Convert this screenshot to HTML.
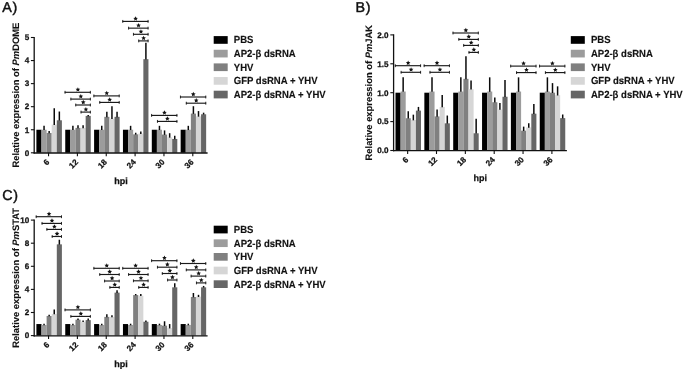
<!DOCTYPE html>
<html><head><meta charset="utf-8"><title>Figure</title>
<style>
html,body{margin:0;padding:0;background:#fff;}
svg{display:block;font-family:"Liberation Sans", sans-serif;fill:#111;filter:grayscale(1) blur(0.35px);text-rendering:geometricPrecision;}
text[font-weight=bold]{stroke:#111;stroke-width:0.25px;}
</style></head>
<body>
<svg width="685" height="371" viewBox="0 0 685 371">
<rect x="0" y="0" width="685" height="371" fill="#ffffff"/>
<g id="panelA">
<rect x="36.40" y="129.74" width="5.10" height="23.06" fill="#000000"/>
<rect x="41.50" y="129.74" width="5.10" height="23.06" fill="#9c9c9c"/>
<line x1="44.05" x2="44.05" y1="125.82" y2="130.04" stroke="#0a0a0a" stroke-width="1.5"/>
<rect x="46.60" y="132.97" width="5.10" height="19.83" fill="#808080"/>
<line x1="49.15" x2="49.15" y1="130.89" y2="133.27" stroke="#0a0a0a" stroke-width="1.5"/>
<rect x="51.70" y="124.67" width="5.10" height="28.13" fill="#d6d6d6"/>
<line x1="54.25" x2="54.25" y1="108.29" y2="124.97" stroke="#0a0a0a" stroke-width="1.5"/>
<rect x="56.80" y="120.29" width="5.10" height="32.51" fill="#666666"/>
<line x1="59.35" x2="59.35" y1="111.52" y2="120.59" stroke="#0a0a0a" stroke-width="1.5"/>
<rect x="65.25" y="129.74" width="5.10" height="23.06" fill="#000000"/>
<rect x="70.35" y="129.74" width="5.10" height="23.06" fill="#9c9c9c"/>
<line x1="72.90" x2="72.90" y1="125.82" y2="130.04" stroke="#0a0a0a" stroke-width="1.5"/>
<rect x="75.45" y="127.90" width="5.10" height="24.90" fill="#808080"/>
<line x1="78.00" x2="78.00" y1="125.13" y2="128.20" stroke="#0a0a0a" stroke-width="1.5"/>
<rect x="80.55" y="127.90" width="5.10" height="24.90" fill="#d6d6d6"/>
<line x1="83.10" x2="83.10" y1="125.13" y2="128.20" stroke="#0a0a0a" stroke-width="1.5"/>
<rect x="85.65" y="115.90" width="5.10" height="36.90" fill="#666666"/>
<line x1="88.20" x2="88.20" y1="114.98" y2="116.20" stroke="#0a0a0a" stroke-width="1.5"/>
<rect x="94.10" y="129.74" width="5.10" height="23.06" fill="#000000"/>
<rect x="99.20" y="129.74" width="5.10" height="23.06" fill="#9c9c9c"/>
<line x1="101.75" x2="101.75" y1="125.82" y2="130.04" stroke="#0a0a0a" stroke-width="1.5"/>
<rect x="104.30" y="116.83" width="5.10" height="35.97" fill="#808080"/>
<line x1="106.85" x2="106.85" y1="111.75" y2="117.13" stroke="#0a0a0a" stroke-width="1.5"/>
<rect x="109.40" y="118.67" width="5.10" height="34.13" fill="#d6d6d6"/>
<line x1="111.95" x2="111.95" y1="106.22" y2="118.97" stroke="#0a0a0a" stroke-width="1.5"/>
<rect x="114.50" y="116.83" width="5.10" height="35.97" fill="#666666"/>
<line x1="117.05" x2="117.05" y1="111.75" y2="117.13" stroke="#0a0a0a" stroke-width="1.5"/>
<rect x="122.95" y="129.74" width="5.10" height="23.06" fill="#000000"/>
<rect x="128.05" y="129.74" width="5.10" height="23.06" fill="#9c9c9c"/>
<line x1="130.60" x2="130.60" y1="125.82" y2="130.04" stroke="#0a0a0a" stroke-width="1.5"/>
<rect x="133.15" y="134.35" width="5.10" height="18.45" fill="#808080"/>
<line x1="135.70" x2="135.70" y1="132.74" y2="134.65" stroke="#0a0a0a" stroke-width="1.5"/>
<rect x="138.25" y="133.66" width="5.10" height="19.14" fill="#d6d6d6"/>
<line x1="140.80" x2="140.80" y1="131.58" y2="133.96" stroke="#0a0a0a" stroke-width="1.5"/>
<rect x="143.35" y="59.18" width="5.10" height="93.62" fill="#666666"/>
<line x1="145.90" x2="145.90" y1="42.80" y2="59.48" stroke="#0a0a0a" stroke-width="1.5"/>
<rect x="151.80" y="129.74" width="5.10" height="23.06" fill="#000000"/>
<rect x="156.90" y="129.74" width="5.10" height="23.06" fill="#9c9c9c"/>
<line x1="159.45" x2="159.45" y1="125.82" y2="130.04" stroke="#0a0a0a" stroke-width="1.5"/>
<rect x="162.00" y="134.58" width="5.10" height="18.22" fill="#808080"/>
<line x1="164.55" x2="164.55" y1="130.43" y2="134.88" stroke="#0a0a0a" stroke-width="1.5"/>
<rect x="167.10" y="137.35" width="5.10" height="15.45" fill="#d6d6d6"/>
<line x1="169.65" x2="169.65" y1="133.20" y2="137.65" stroke="#0a0a0a" stroke-width="1.5"/>
<rect x="172.20" y="138.96" width="5.10" height="13.84" fill="#666666"/>
<line x1="174.75" x2="174.75" y1="135.74" y2="139.26" stroke="#0a0a0a" stroke-width="1.5"/>
<rect x="180.65" y="129.74" width="5.10" height="23.06" fill="#000000"/>
<rect x="185.75" y="129.74" width="5.10" height="23.06" fill="#9c9c9c"/>
<line x1="188.30" x2="188.30" y1="125.82" y2="130.04" stroke="#0a0a0a" stroke-width="1.5"/>
<rect x="190.85" y="113.60" width="5.10" height="39.20" fill="#808080"/>
<line x1="193.40" x2="193.40" y1="106.22" y2="113.90" stroke="#0a0a0a" stroke-width="1.5"/>
<rect x="195.95" y="116.37" width="5.10" height="36.43" fill="#d6d6d6"/>
<line x1="198.50" x2="198.50" y1="111.06" y2="116.67" stroke="#0a0a0a" stroke-width="1.5"/>
<rect x="201.05" y="114.29" width="5.10" height="38.51" fill="#666666"/>
<line x1="203.60" x2="203.60" y1="112.68" y2="114.59" stroke="#0a0a0a" stroke-width="1.5"/>
<line x1="34.20" x2="34.20" y1="36.90" y2="153.60" stroke="#111" stroke-width="1.3"/>
<line x1="33.60" x2="207.60" y1="153.00" y2="153.00" stroke="#111" stroke-width="1.3"/>
<line x1="30.90" x2="34.20" y1="152.80" y2="152.80" stroke="#111" stroke-width="1.1"/>
<text x="29.20" y="155.60" text-anchor="end" font-size="8.1" font-weight="bold">0</text>
<line x1="30.90" x2="34.20" y1="129.74" y2="129.74" stroke="#111" stroke-width="1.1"/>
<text x="29.20" y="132.54" text-anchor="end" font-size="8.1" font-weight="bold">1</text>
<line x1="30.90" x2="34.20" y1="106.68" y2="106.68" stroke="#111" stroke-width="1.1"/>
<text x="29.20" y="109.48" text-anchor="end" font-size="8.1" font-weight="bold">2</text>
<line x1="30.90" x2="34.20" y1="83.62" y2="83.62" stroke="#111" stroke-width="1.1"/>
<text x="29.20" y="86.42" text-anchor="end" font-size="8.1" font-weight="bold">3</text>
<line x1="30.90" x2="34.20" y1="60.56" y2="60.56" stroke="#111" stroke-width="1.1"/>
<text x="29.20" y="63.36" text-anchor="end" font-size="8.1" font-weight="bold">4</text>
<line x1="30.90" x2="34.20" y1="37.50" y2="37.50" stroke="#111" stroke-width="1.1"/>
<text x="29.20" y="40.30" text-anchor="end" font-size="8.1" font-weight="bold">5</text>
<line x1="48.55" x2="48.55" y1="152.80" y2="156.30" stroke="#111" stroke-width="1.1"/>
<text transform="translate(49.85,162.50) rotate(-45)" text-anchor="end" font-size="8.1" font-weight="bold">6</text>
<line x1="77.40" x2="77.40" y1="152.80" y2="156.30" stroke="#111" stroke-width="1.1"/>
<text transform="translate(78.70,162.50) rotate(-45)" text-anchor="end" font-size="8.1" font-weight="bold">12</text>
<line x1="106.25" x2="106.25" y1="152.80" y2="156.30" stroke="#111" stroke-width="1.1"/>
<text transform="translate(107.55,162.50) rotate(-45)" text-anchor="end" font-size="8.1" font-weight="bold">18</text>
<line x1="135.10" x2="135.10" y1="152.80" y2="156.30" stroke="#111" stroke-width="1.1"/>
<text transform="translate(136.40,162.50) rotate(-45)" text-anchor="end" font-size="8.1" font-weight="bold">24</text>
<line x1="163.95" x2="163.95" y1="152.80" y2="156.30" stroke="#111" stroke-width="1.1"/>
<text transform="translate(165.25,162.50) rotate(-45)" text-anchor="end" font-size="8.1" font-weight="bold">30</text>
<line x1="192.80" x2="192.80" y1="152.80" y2="156.30" stroke="#111" stroke-width="1.1"/>
<text transform="translate(194.10,162.50) rotate(-45)" text-anchor="end" font-size="8.1" font-weight="bold">36</text>
<text x="120.90" y="183.70" text-anchor="middle" font-size="9" font-weight="bold">hpi</text>
<text transform="translate(19.40,95.15) rotate(-90)" text-anchor="middle" font-size="9.4" font-weight="bold" style="stroke-width:0.1px">Relative expression of <tspan font-style="italic">Pm</tspan>DOME</text>
<text x="2.3" y="11.85" font-size="14.3" letter-spacing="0.7" stroke="#111" stroke-width="0.45">A)</text>
<line x1="64.65" x2="90.75" y1="92.30" y2="92.30" stroke="#1a1a1a" stroke-width="1.15"/>
<line x1="65.05" x2="65.05" y1="90.85" y2="93.75" stroke="#1a1a1a" stroke-width="0.9"/>
<line x1="90.35" x2="90.35" y1="90.85" y2="93.75" stroke="#1a1a1a" stroke-width="0.9"/>
<polygon points="77.90,87.15 78.58,88.67 80.23,88.84 78.99,89.96 79.34,91.58 77.90,90.75 76.46,91.58 76.81,89.96 75.57,88.84 77.22,88.67" fill="#111"/>
<line x1="70.50" x2="90.75" y1="99.10" y2="99.10" stroke="#1a1a1a" stroke-width="1.15"/>
<line x1="70.90" x2="70.90" y1="97.65" y2="100.55" stroke="#1a1a1a" stroke-width="0.9"/>
<line x1="90.35" x2="90.35" y1="97.65" y2="100.55" stroke="#1a1a1a" stroke-width="0.9"/>
<polygon points="80.83,93.95 81.50,95.47 83.16,95.64 81.92,96.76 82.27,98.38 80.83,97.55 79.38,98.38 79.73,96.76 78.49,95.64 80.15,95.47" fill="#111"/>
<line x1="75.35" x2="90.75" y1="105.00" y2="105.00" stroke="#1a1a1a" stroke-width="1.15"/>
<line x1="75.75" x2="75.75" y1="103.55" y2="106.45" stroke="#1a1a1a" stroke-width="0.9"/>
<line x1="90.35" x2="90.35" y1="103.55" y2="106.45" stroke="#1a1a1a" stroke-width="0.9"/>
<polygon points="83.25,99.85 83.93,101.37 85.58,101.54 84.34,102.66 84.69,104.28 83.25,103.45 81.81,104.28 82.16,102.66 80.92,101.54 82.57,101.37" fill="#111"/>
<line x1="80.65" x2="90.75" y1="112.10" y2="112.10" stroke="#1a1a1a" stroke-width="1.15"/>
<line x1="81.05" x2="81.05" y1="110.65" y2="113.55" stroke="#1a1a1a" stroke-width="0.9"/>
<line x1="90.35" x2="90.35" y1="110.65" y2="113.55" stroke="#1a1a1a" stroke-width="0.9"/>
<polygon points="85.90,106.95 86.58,108.47 88.23,108.64 86.99,109.76 87.34,111.38 85.90,110.55 84.46,111.38 84.81,109.76 83.57,108.64 85.22,108.47" fill="#111"/>
<line x1="93.50" x2="119.60" y1="95.90" y2="95.90" stroke="#1a1a1a" stroke-width="1.15"/>
<line x1="93.90" x2="93.90" y1="94.45" y2="97.35" stroke="#1a1a1a" stroke-width="0.9"/>
<line x1="119.20" x2="119.20" y1="94.45" y2="97.35" stroke="#1a1a1a" stroke-width="0.9"/>
<polygon points="106.75,90.75 107.43,92.27 109.08,92.44 107.84,93.56 108.19,95.18 106.75,94.35 105.31,95.18 105.66,93.56 104.42,92.44 106.07,92.27" fill="#111"/>
<line x1="99.35" x2="119.60" y1="102.40" y2="102.40" stroke="#1a1a1a" stroke-width="1.15"/>
<line x1="99.75" x2="99.75" y1="100.95" y2="103.85" stroke="#1a1a1a" stroke-width="0.9"/>
<line x1="119.20" x2="119.20" y1="100.95" y2="103.85" stroke="#1a1a1a" stroke-width="0.9"/>
<polygon points="109.67,97.25 110.35,98.77 112.01,98.94 110.77,100.06 111.12,101.68 109.67,100.85 108.23,101.68 108.58,100.06 107.34,98.94 109.00,98.77" fill="#111"/>
<line x1="122.35" x2="148.45" y1="21.40" y2="21.40" stroke="#1a1a1a" stroke-width="1.15"/>
<line x1="122.75" x2="122.75" y1="19.95" y2="22.85" stroke="#1a1a1a" stroke-width="0.9"/>
<line x1="148.05" x2="148.05" y1="19.95" y2="22.85" stroke="#1a1a1a" stroke-width="0.9"/>
<polygon points="135.60,16.25 136.28,17.77 137.93,17.94 136.69,19.06 137.04,20.68 135.60,19.85 134.16,20.68 134.51,19.06 133.27,17.94 134.92,17.77" fill="#111"/>
<line x1="128.20" x2="148.45" y1="28.15" y2="28.15" stroke="#1a1a1a" stroke-width="1.15"/>
<line x1="128.60" x2="128.60" y1="26.70" y2="29.60" stroke="#1a1a1a" stroke-width="0.9"/>
<line x1="148.05" x2="148.05" y1="26.70" y2="29.60" stroke="#1a1a1a" stroke-width="0.9"/>
<polygon points="138.53,23.00 139.20,24.52 140.86,24.69 139.62,25.81 139.97,27.43 138.53,26.60 137.08,27.43 137.43,25.81 136.19,24.69 137.85,24.52" fill="#111"/>
<line x1="133.05" x2="148.45" y1="34.30" y2="34.30" stroke="#1a1a1a" stroke-width="1.15"/>
<line x1="133.45" x2="133.45" y1="32.85" y2="35.75" stroke="#1a1a1a" stroke-width="0.9"/>
<line x1="148.05" x2="148.05" y1="32.85" y2="35.75" stroke="#1a1a1a" stroke-width="0.9"/>
<polygon points="140.95,29.15 141.63,30.67 143.28,30.84 142.04,31.96 142.39,33.58 140.95,32.75 139.51,33.58 139.86,31.96 138.62,30.84 140.27,30.67" fill="#111"/>
<line x1="138.35" x2="148.45" y1="40.90" y2="40.90" stroke="#1a1a1a" stroke-width="1.15"/>
<line x1="138.75" x2="138.75" y1="39.45" y2="42.35" stroke="#1a1a1a" stroke-width="0.9"/>
<line x1="148.05" x2="148.05" y1="39.45" y2="42.35" stroke="#1a1a1a" stroke-width="0.9"/>
<polygon points="143.60,35.75 144.28,37.27 145.93,37.44 144.69,38.56 145.04,40.18 143.60,39.35 142.16,40.18 142.51,38.56 141.27,37.44 142.92,37.27" fill="#111"/>
<line x1="151.20" x2="177.30" y1="115.40" y2="115.40" stroke="#1a1a1a" stroke-width="1.15"/>
<line x1="151.60" x2="151.60" y1="113.95" y2="116.85" stroke="#1a1a1a" stroke-width="0.9"/>
<line x1="176.90" x2="176.90" y1="113.95" y2="116.85" stroke="#1a1a1a" stroke-width="0.9"/>
<polygon points="164.45,110.25 165.13,111.77 166.78,111.94 165.54,113.06 165.89,114.68 164.45,113.85 163.01,114.68 163.36,113.06 162.12,111.94 163.77,111.77" fill="#111"/>
<line x1="157.05" x2="177.30" y1="121.40" y2="121.40" stroke="#1a1a1a" stroke-width="1.15"/>
<line x1="157.45" x2="157.45" y1="119.95" y2="122.85" stroke="#1a1a1a" stroke-width="0.9"/>
<line x1="176.90" x2="176.90" y1="119.95" y2="122.85" stroke="#1a1a1a" stroke-width="0.9"/>
<polygon points="167.38,116.25 168.05,117.77 169.71,117.94 168.47,119.06 168.82,120.68 167.38,119.85 165.93,120.68 166.28,119.06 165.04,117.94 166.70,117.77" fill="#111"/>
<line x1="180.05" x2="206.15" y1="97.00" y2="97.00" stroke="#1a1a1a" stroke-width="1.15"/>
<line x1="180.45" x2="180.45" y1="95.55" y2="98.45" stroke="#1a1a1a" stroke-width="0.9"/>
<line x1="205.75" x2="205.75" y1="95.55" y2="98.45" stroke="#1a1a1a" stroke-width="0.9"/>
<polygon points="193.30,91.85 193.98,93.37 195.63,93.54 194.39,94.66 194.74,96.28 193.30,95.45 191.86,96.28 192.21,94.66 190.97,93.54 192.62,93.37" fill="#111"/>
<line x1="185.90" x2="206.15" y1="103.20" y2="103.20" stroke="#1a1a1a" stroke-width="1.15"/>
<line x1="186.30" x2="186.30" y1="101.75" y2="104.65" stroke="#1a1a1a" stroke-width="0.9"/>
<line x1="205.75" x2="205.75" y1="101.75" y2="104.65" stroke="#1a1a1a" stroke-width="0.9"/>
<polygon points="196.22,98.05 196.90,99.57 198.56,99.74 197.32,100.86 197.67,102.48 196.22,101.65 194.78,102.48 195.13,100.86 193.89,99.74 195.55,99.57" fill="#111"/>
<rect x="213.70" y="36.10" width="14" height="7.7" fill="#000000"/>
<text transform="translate(233.80,43.45) scale(0.925,1)" font-size="10.3" font-weight="bold" style="stroke-width:0.15px">PBS</text>
<rect x="213.70" y="49.75" width="14" height="7.7" fill="#9c9c9c"/>
<text transform="translate(233.80,57.10) scale(0.925,1)" font-size="10.3" font-weight="bold" style="stroke-width:0.15px">AP2-β dsRNA</text>
<rect x="213.70" y="63.40" width="14" height="7.7" fill="#808080"/>
<text transform="translate(233.80,70.75) scale(0.925,1)" font-size="10.3" font-weight="bold" style="stroke-width:0.15px">YHV</text>
<rect x="213.70" y="77.05" width="14" height="7.7" fill="#d6d6d6"/>
<text transform="translate(233.80,84.40) scale(0.925,1)" font-size="10.3" font-weight="bold" style="stroke-width:0.15px">GFP dsRNA + YHV</text>
<rect x="213.70" y="90.70" width="14" height="7.7" fill="#666666"/>
<text transform="translate(233.80,98.05) scale(0.925,1)" font-size="10.3" font-weight="bold" style="stroke-width:0.15px">AP2-β dsRNA + YHV</text>
</g>
<g id="panelB">
<rect x="395.50" y="92.70" width="5.10" height="57.80" fill="#000000"/>
<rect x="400.60" y="91.54" width="5.10" height="58.96" fill="#9c9c9c"/>
<line x1="403.15" x2="403.15" y1="77.33" y2="91.84" stroke="#0a0a0a" stroke-width="1.5"/>
<rect x="405.70" y="118.25" width="5.10" height="32.25" fill="#808080"/>
<line x1="408.25" x2="408.25" y1="111.20" y2="118.55" stroke="#0a0a0a" stroke-width="1.5"/>
<rect x="410.80" y="120.04" width="5.10" height="30.46" fill="#d6d6d6"/>
<line x1="413.35" x2="413.35" y1="114.66" y2="120.34" stroke="#0a0a0a" stroke-width="1.5"/>
<rect x="415.90" y="110.62" width="5.10" height="39.88" fill="#666666"/>
<line x1="418.45" x2="418.45" y1="106.92" y2="110.92" stroke="#0a0a0a" stroke-width="1.5"/>
<rect x="424.35" y="92.70" width="5.10" height="57.80" fill="#000000"/>
<rect x="429.45" y="91.54" width="5.10" height="58.96" fill="#9c9c9c"/>
<line x1="432.00" x2="432.00" y1="77.33" y2="91.84" stroke="#0a0a0a" stroke-width="1.5"/>
<rect x="434.55" y="116.40" width="5.10" height="34.10" fill="#808080"/>
<line x1="437.10" x2="437.10" y1="109.46" y2="116.70" stroke="#0a0a0a" stroke-width="1.5"/>
<rect x="439.65" y="106.92" width="5.10" height="43.58" fill="#d6d6d6"/>
<line x1="442.20" x2="442.20" y1="95.01" y2="107.22" stroke="#0a0a0a" stroke-width="1.5"/>
<rect x="444.75" y="123.33" width="5.10" height="27.17" fill="#666666"/>
<line x1="447.30" x2="447.30" y1="115.53" y2="123.63" stroke="#0a0a0a" stroke-width="1.5"/>
<rect x="453.20" y="92.70" width="5.10" height="57.80" fill="#000000"/>
<rect x="458.30" y="91.54" width="5.10" height="58.96" fill="#9c9c9c"/>
<line x1="460.85" x2="460.85" y1="77.33" y2="91.84" stroke="#0a0a0a" stroke-width="1.5"/>
<rect x="463.40" y="78.83" width="5.10" height="71.67" fill="#808080"/>
<line x1="465.95" x2="465.95" y1="56.29" y2="79.13" stroke="#0a0a0a" stroke-width="1.5"/>
<rect x="468.50" y="89.23" width="5.10" height="61.27" fill="#d6d6d6"/>
<line x1="471.05" x2="471.05" y1="80.56" y2="89.53" stroke="#0a0a0a" stroke-width="1.5"/>
<rect x="473.60" y="133.28" width="5.10" height="17.22" fill="#666666"/>
<line x1="476.15" x2="476.15" y1="118.71" y2="133.58" stroke="#0a0a0a" stroke-width="1.5"/>
<rect x="482.05" y="92.70" width="5.10" height="57.80" fill="#000000"/>
<rect x="487.15" y="91.54" width="5.10" height="58.96" fill="#9c9c9c"/>
<line x1="489.70" x2="489.70" y1="77.33" y2="91.84" stroke="#0a0a0a" stroke-width="1.5"/>
<rect x="492.25" y="102.24" width="5.10" height="48.26" fill="#808080"/>
<line x1="494.80" x2="494.80" y1="97.61" y2="102.54" stroke="#0a0a0a" stroke-width="1.5"/>
<rect x="497.35" y="109.46" width="5.10" height="41.04" fill="#d6d6d6"/>
<line x1="499.90" x2="499.90" y1="103.10" y2="109.76" stroke="#0a0a0a" stroke-width="1.5"/>
<rect x="502.45" y="96.75" width="5.10" height="53.75" fill="#666666"/>
<line x1="505.00" x2="505.00" y1="79.98" y2="97.05" stroke="#0a0a0a" stroke-width="1.5"/>
<rect x="510.90" y="92.70" width="5.10" height="57.80" fill="#000000"/>
<rect x="516.00" y="91.54" width="5.10" height="58.96" fill="#9c9c9c"/>
<line x1="518.55" x2="518.55" y1="77.33" y2="91.84" stroke="#0a0a0a" stroke-width="1.5"/>
<rect x="521.10" y="130.67" width="5.10" height="19.83" fill="#808080"/>
<line x1="523.65" x2="523.65" y1="126.63" y2="130.97" stroke="#0a0a0a" stroke-width="1.5"/>
<rect x="526.20" y="127.38" width="5.10" height="23.12" fill="#d6d6d6"/>
<line x1="528.75" x2="528.75" y1="123.33" y2="127.68" stroke="#0a0a0a" stroke-width="1.5"/>
<rect x="531.30" y="113.68" width="5.10" height="36.82" fill="#666666"/>
<line x1="533.85" x2="533.85" y1="103.97" y2="113.98" stroke="#0a0a0a" stroke-width="1.5"/>
<rect x="539.75" y="92.70" width="5.10" height="57.80" fill="#000000"/>
<rect x="544.85" y="91.54" width="5.10" height="58.96" fill="#9c9c9c"/>
<line x1="547.40" x2="547.40" y1="77.33" y2="91.84" stroke="#0a0a0a" stroke-width="1.5"/>
<rect x="549.95" y="92.70" width="5.10" height="57.80" fill="#808080"/>
<line x1="552.50" x2="552.50" y1="83.11" y2="93.00" stroke="#0a0a0a" stroke-width="1.5"/>
<rect x="555.05" y="95.19" width="5.10" height="55.31" fill="#d6d6d6"/>
<line x1="557.60" x2="557.60" y1="86.34" y2="95.49" stroke="#0a0a0a" stroke-width="1.5"/>
<rect x="560.15" y="118.13" width="5.10" height="32.37" fill="#666666"/>
<line x1="562.70" x2="562.70" y1="114.49" y2="118.43" stroke="#0a0a0a" stroke-width="1.5"/>
<line x1="393.60" x2="393.60" y1="34.30" y2="151.30" stroke="#111" stroke-width="1.3"/>
<line x1="393.00" x2="566.90" y1="150.70" y2="150.70" stroke="#111" stroke-width="1.3"/>
<line x1="390.30" x2="393.60" y1="150.50" y2="150.50" stroke="#111" stroke-width="1.1"/>
<text x="388.60" y="153.30" text-anchor="end" font-size="8.1" font-weight="bold">0.0</text>
<line x1="390.30" x2="393.60" y1="121.60" y2="121.60" stroke="#111" stroke-width="1.1"/>
<text x="388.60" y="124.40" text-anchor="end" font-size="8.1" font-weight="bold">0.5</text>
<line x1="390.30" x2="393.60" y1="92.70" y2="92.70" stroke="#111" stroke-width="1.1"/>
<text x="388.60" y="95.50" text-anchor="end" font-size="8.1" font-weight="bold">1.0</text>
<line x1="390.30" x2="393.60" y1="63.80" y2="63.80" stroke="#111" stroke-width="1.1"/>
<text x="388.60" y="66.60" text-anchor="end" font-size="8.1" font-weight="bold">1.5</text>
<line x1="390.30" x2="393.60" y1="34.90" y2="34.90" stroke="#111" stroke-width="1.1"/>
<text x="388.60" y="37.70" text-anchor="end" font-size="8.1" font-weight="bold">2.0</text>
<line x1="407.65" x2="407.65" y1="150.50" y2="154.00" stroke="#111" stroke-width="1.1"/>
<text transform="translate(408.95,160.20) rotate(-45)" text-anchor="end" font-size="8.1" font-weight="bold">6</text>
<line x1="436.50" x2="436.50" y1="150.50" y2="154.00" stroke="#111" stroke-width="1.1"/>
<text transform="translate(437.80,160.20) rotate(-45)" text-anchor="end" font-size="8.1" font-weight="bold">12</text>
<line x1="465.35" x2="465.35" y1="150.50" y2="154.00" stroke="#111" stroke-width="1.1"/>
<text transform="translate(466.65,160.20) rotate(-45)" text-anchor="end" font-size="8.1" font-weight="bold">18</text>
<line x1="494.20" x2="494.20" y1="150.50" y2="154.00" stroke="#111" stroke-width="1.1"/>
<text transform="translate(495.50,160.20) rotate(-45)" text-anchor="end" font-size="8.1" font-weight="bold">24</text>
<line x1="523.05" x2="523.05" y1="150.50" y2="154.00" stroke="#111" stroke-width="1.1"/>
<text transform="translate(524.35,160.20) rotate(-45)" text-anchor="end" font-size="8.1" font-weight="bold">30</text>
<line x1="551.90" x2="551.90" y1="150.50" y2="154.00" stroke="#111" stroke-width="1.1"/>
<text transform="translate(553.20,160.20) rotate(-45)" text-anchor="end" font-size="8.1" font-weight="bold">36</text>
<text x="480.25" y="181.40" text-anchor="middle" font-size="9" font-weight="bold">hpi</text>
<text transform="translate(372.20,92.70) rotate(-90)" text-anchor="middle" font-size="9.4" font-weight="bold" style="stroke-width:0.1px">Relative expression of <tspan font-style="italic">Pm</tspan>JAK</text>
<text x="355.4" y="11.85" font-size="14.3" letter-spacing="0.7" stroke="#111" stroke-width="0.45">B)</text>
<line x1="394.90" x2="421.00" y1="65.70" y2="65.70" stroke="#1a1a1a" stroke-width="1.15"/>
<line x1="395.30" x2="395.30" y1="64.25" y2="67.15" stroke="#1a1a1a" stroke-width="0.9"/>
<line x1="420.60" x2="420.60" y1="64.25" y2="67.15" stroke="#1a1a1a" stroke-width="0.9"/>
<polygon points="408.15,60.55 408.83,62.07 410.48,62.24 409.24,63.36 409.59,64.98 408.15,64.15 406.71,64.98 407.06,63.36 405.82,62.24 407.47,62.07" fill="#111"/>
<line x1="400.75" x2="421.00" y1="72.30" y2="72.30" stroke="#1a1a1a" stroke-width="1.15"/>
<line x1="401.15" x2="401.15" y1="70.85" y2="73.75" stroke="#1a1a1a" stroke-width="0.9"/>
<line x1="420.60" x2="420.60" y1="70.85" y2="73.75" stroke="#1a1a1a" stroke-width="0.9"/>
<polygon points="411.07,67.15 411.75,68.67 413.41,68.84 412.17,69.96 412.52,71.58 411.07,70.75 409.63,71.58 409.98,69.96 408.74,68.84 410.40,68.67" fill="#111"/>
<line x1="423.75" x2="449.85" y1="65.70" y2="65.70" stroke="#1a1a1a" stroke-width="1.15"/>
<line x1="424.15" x2="424.15" y1="64.25" y2="67.15" stroke="#1a1a1a" stroke-width="0.9"/>
<line x1="449.45" x2="449.45" y1="64.25" y2="67.15" stroke="#1a1a1a" stroke-width="0.9"/>
<polygon points="437.00,60.55 437.68,62.07 439.33,62.24 438.09,63.36 438.44,64.98 437.00,64.15 435.56,64.98 435.91,63.36 434.67,62.24 436.32,62.07" fill="#111"/>
<line x1="429.60" x2="449.85" y1="72.30" y2="72.30" stroke="#1a1a1a" stroke-width="1.15"/>
<line x1="430.00" x2="430.00" y1="70.85" y2="73.75" stroke="#1a1a1a" stroke-width="0.9"/>
<line x1="449.45" x2="449.45" y1="70.85" y2="73.75" stroke="#1a1a1a" stroke-width="0.9"/>
<polygon points="439.93,67.15 440.60,68.67 442.26,68.84 441.02,69.96 441.37,71.58 439.93,70.75 438.48,71.58 438.83,69.96 437.59,68.84 439.25,68.67" fill="#111"/>
<line x1="452.60" x2="478.70" y1="33.00" y2="33.00" stroke="#1a1a1a" stroke-width="1.15"/>
<line x1="453.00" x2="453.00" y1="31.55" y2="34.45" stroke="#1a1a1a" stroke-width="0.9"/>
<line x1="478.30" x2="478.30" y1="31.55" y2="34.45" stroke="#1a1a1a" stroke-width="0.9"/>
<polygon points="465.85,27.85 466.53,29.37 468.18,29.54 466.94,30.66 467.29,32.28 465.85,31.45 464.41,32.28 464.76,30.66 463.52,29.54 465.17,29.37" fill="#111"/>
<line x1="458.45" x2="478.70" y1="39.40" y2="39.40" stroke="#1a1a1a" stroke-width="1.15"/>
<line x1="458.85" x2="458.85" y1="37.95" y2="40.85" stroke="#1a1a1a" stroke-width="0.9"/>
<line x1="478.30" x2="478.30" y1="37.95" y2="40.85" stroke="#1a1a1a" stroke-width="0.9"/>
<polygon points="468.77,34.25 469.45,35.77 471.11,35.94 469.87,37.06 470.22,38.68 468.77,37.85 467.33,38.68 467.68,37.06 466.44,35.94 468.10,35.77" fill="#111"/>
<line x1="463.30" x2="478.70" y1="45.40" y2="45.40" stroke="#1a1a1a" stroke-width="1.15"/>
<line x1="463.70" x2="463.70" y1="43.95" y2="46.85" stroke="#1a1a1a" stroke-width="0.9"/>
<line x1="478.30" x2="478.30" y1="43.95" y2="46.85" stroke="#1a1a1a" stroke-width="0.9"/>
<polygon points="471.20,40.25 471.88,41.77 473.53,41.94 472.29,43.06 472.64,44.68 471.20,43.85 469.76,44.68 470.11,43.06 468.87,41.94 470.52,41.77" fill="#111"/>
<line x1="468.60" x2="478.70" y1="52.40" y2="52.40" stroke="#1a1a1a" stroke-width="1.15"/>
<line x1="469.00" x2="469.00" y1="50.95" y2="53.85" stroke="#1a1a1a" stroke-width="0.9"/>
<line x1="478.30" x2="478.30" y1="50.95" y2="53.85" stroke="#1a1a1a" stroke-width="0.9"/>
<polygon points="473.85,47.25 474.53,48.77 476.18,48.94 474.94,50.06 475.29,51.68 473.85,50.85 472.41,51.68 472.76,50.06 471.52,48.94 473.17,48.77" fill="#111"/>
<line x1="510.30" x2="536.40" y1="66.10" y2="66.10" stroke="#1a1a1a" stroke-width="1.15"/>
<line x1="510.70" x2="510.70" y1="64.65" y2="67.55" stroke="#1a1a1a" stroke-width="0.9"/>
<line x1="536.00" x2="536.00" y1="64.65" y2="67.55" stroke="#1a1a1a" stroke-width="0.9"/>
<polygon points="523.55,60.95 524.23,62.47 525.88,62.64 524.64,63.76 524.99,65.38 523.55,64.55 522.11,65.38 522.46,63.76 521.22,62.64 522.87,62.47" fill="#111"/>
<line x1="516.15" x2="536.40" y1="72.60" y2="72.60" stroke="#1a1a1a" stroke-width="1.15"/>
<line x1="516.55" x2="516.55" y1="71.15" y2="74.05" stroke="#1a1a1a" stroke-width="0.9"/>
<line x1="536.00" x2="536.00" y1="71.15" y2="74.05" stroke="#1a1a1a" stroke-width="0.9"/>
<polygon points="526.48,67.45 527.15,68.97 528.81,69.14 527.57,70.26 527.92,71.88 526.48,71.05 525.03,71.88 525.38,70.26 524.14,69.14 525.80,68.97" fill="#111"/>
<line x1="539.15" x2="565.25" y1="66.10" y2="66.10" stroke="#1a1a1a" stroke-width="1.15"/>
<line x1="539.55" x2="539.55" y1="64.65" y2="67.55" stroke="#1a1a1a" stroke-width="0.9"/>
<line x1="564.85" x2="564.85" y1="64.65" y2="67.55" stroke="#1a1a1a" stroke-width="0.9"/>
<polygon points="552.40,60.95 553.08,62.47 554.73,62.64 553.49,63.76 553.84,65.38 552.40,64.55 550.96,65.38 551.31,63.76 550.07,62.64 551.72,62.47" fill="#111"/>
<line x1="545.00" x2="565.25" y1="72.60" y2="72.60" stroke="#1a1a1a" stroke-width="1.15"/>
<line x1="545.40" x2="545.40" y1="71.15" y2="74.05" stroke="#1a1a1a" stroke-width="0.9"/>
<line x1="564.85" x2="564.85" y1="71.15" y2="74.05" stroke="#1a1a1a" stroke-width="0.9"/>
<polygon points="555.33,67.45 556.00,68.97 557.66,69.14 556.42,70.26 556.77,71.88 555.33,71.05 553.88,71.88 554.23,70.26 552.99,69.14 554.65,68.97" fill="#111"/>
<rect x="570.80" y="36.10" width="14" height="7.7" fill="#000000"/>
<text transform="translate(590.90,43.45) scale(0.925,1)" font-size="10.3" font-weight="bold" style="stroke-width:0.15px">PBS</text>
<rect x="570.80" y="49.75" width="14" height="7.7" fill="#9c9c9c"/>
<text transform="translate(590.90,57.10) scale(0.925,1)" font-size="10.3" font-weight="bold" style="stroke-width:0.15px">AP2-β dsRNA</text>
<rect x="570.80" y="63.40" width="14" height="7.7" fill="#808080"/>
<text transform="translate(590.90,70.75) scale(0.925,1)" font-size="10.3" font-weight="bold" style="stroke-width:0.15px">YHV</text>
<rect x="570.80" y="77.05" width="14" height="7.7" fill="#d6d6d6"/>
<text transform="translate(590.90,84.40) scale(0.925,1)" font-size="10.3" font-weight="bold" style="stroke-width:0.15px">GFP dsRNA + YHV</text>
<rect x="570.80" y="90.70" width="14" height="7.7" fill="#666666"/>
<text transform="translate(590.90,98.05) scale(0.925,1)" font-size="10.3" font-weight="bold" style="stroke-width:0.15px">AP2-β dsRNA + YHV</text>
</g>
<g id="panelC">
<rect x="36.40" y="324.05" width="5.10" height="11.55" fill="#000000"/>
<rect x="41.50" y="324.97" width="5.10" height="10.63" fill="#9c9c9c"/>
<line x1="44.05" x2="44.05" y1="323.70" y2="325.27" stroke="#0a0a0a" stroke-width="1.5"/>
<rect x="46.60" y="315.97" width="5.10" height="19.63" fill="#808080"/>
<line x1="49.15" x2="49.15" y1="314.81" y2="316.27" stroke="#0a0a0a" stroke-width="1.5"/>
<rect x="51.70" y="314.00" width="5.10" height="21.60" fill="#d6d6d6"/>
<line x1="54.25" x2="54.25" y1="309.61" y2="314.30" stroke="#0a0a0a" stroke-width="1.5"/>
<rect x="56.80" y="244.36" width="5.10" height="91.25" fill="#666666"/>
<line x1="59.35" x2="59.35" y1="239.74" y2="244.66" stroke="#0a0a0a" stroke-width="1.5"/>
<rect x="65.25" y="324.05" width="5.10" height="11.55" fill="#000000"/>
<rect x="70.35" y="324.97" width="5.10" height="10.63" fill="#9c9c9c"/>
<line x1="72.90" x2="72.90" y1="323.70" y2="325.27" stroke="#0a0a0a" stroke-width="1.5"/>
<rect x="75.45" y="319.66" width="5.10" height="15.94" fill="#808080"/>
<line x1="78.00" x2="78.00" y1="318.39" y2="319.96" stroke="#0a0a0a" stroke-width="1.5"/>
<rect x="80.55" y="321.74" width="5.10" height="13.86" fill="#d6d6d6"/>
<line x1="83.10" x2="83.10" y1="320.47" y2="322.04" stroke="#0a0a0a" stroke-width="1.5"/>
<rect x="85.65" y="320.12" width="5.10" height="15.48" fill="#666666"/>
<line x1="88.20" x2="88.20" y1="318.51" y2="320.42" stroke="#0a0a0a" stroke-width="1.5"/>
<rect x="94.10" y="324.05" width="5.10" height="11.55" fill="#000000"/>
<rect x="99.20" y="324.97" width="5.10" height="10.63" fill="#9c9c9c"/>
<line x1="101.75" x2="101.75" y1="323.70" y2="325.27" stroke="#0a0a0a" stroke-width="1.5"/>
<rect x="104.30" y="316.89" width="5.10" height="18.71" fill="#808080"/>
<line x1="106.85" x2="106.85" y1="314.35" y2="317.19" stroke="#0a0a0a" stroke-width="1.5"/>
<rect x="109.40" y="316.89" width="5.10" height="18.71" fill="#d6d6d6"/>
<line x1="111.95" x2="111.95" y1="315.27" y2="317.19" stroke="#0a0a0a" stroke-width="1.5"/>
<rect x="114.50" y="292.63" width="5.10" height="42.97" fill="#666666"/>
<line x1="117.05" x2="117.05" y1="290.21" y2="292.93" stroke="#0a0a0a" stroke-width="1.5"/>
<rect x="122.95" y="324.05" width="5.10" height="11.55" fill="#000000"/>
<rect x="128.05" y="324.97" width="5.10" height="10.63" fill="#9c9c9c"/>
<line x1="130.60" x2="130.60" y1="323.70" y2="325.27" stroke="#0a0a0a" stroke-width="1.5"/>
<rect x="133.15" y="295.06" width="5.10" height="40.54" fill="#808080"/>
<line x1="135.70" x2="135.70" y1="294.02" y2="295.36" stroke="#0a0a0a" stroke-width="1.5"/>
<rect x="138.25" y="295.75" width="5.10" height="39.85" fill="#d6d6d6"/>
<line x1="140.80" x2="140.80" y1="294.02" y2="296.05" stroke="#0a0a0a" stroke-width="1.5"/>
<rect x="143.35" y="321.74" width="5.10" height="13.86" fill="#666666"/>
<line x1="145.90" x2="145.90" y1="320.47" y2="322.04" stroke="#0a0a0a" stroke-width="1.5"/>
<rect x="151.80" y="324.05" width="5.10" height="11.55" fill="#000000"/>
<rect x="156.90" y="324.97" width="5.10" height="10.63" fill="#9c9c9c"/>
<line x1="159.45" x2="159.45" y1="323.70" y2="325.27" stroke="#0a0a0a" stroke-width="1.5"/>
<rect x="162.00" y="325.67" width="5.10" height="9.93" fill="#808080"/>
<line x1="164.55" x2="164.55" y1="321.28" y2="325.97" stroke="#0a0a0a" stroke-width="1.5"/>
<rect x="167.10" y="328.09" width="5.10" height="7.51" fill="#d6d6d6"/>
<line x1="169.65" x2="169.65" y1="324.05" y2="328.39" stroke="#0a0a0a" stroke-width="1.5"/>
<rect x="172.20" y="287.32" width="5.10" height="48.28" fill="#666666"/>
<line x1="174.75" x2="174.75" y1="283.28" y2="287.62" stroke="#0a0a0a" stroke-width="1.5"/>
<rect x="180.65" y="324.05" width="5.10" height="11.55" fill="#000000"/>
<rect x="185.75" y="324.97" width="5.10" height="10.63" fill="#9c9c9c"/>
<line x1="188.30" x2="188.30" y1="323.70" y2="325.27" stroke="#0a0a0a" stroke-width="1.5"/>
<rect x="190.85" y="297.02" width="5.10" height="38.58" fill="#808080"/>
<line x1="193.40" x2="193.40" y1="292.98" y2="297.32" stroke="#0a0a0a" stroke-width="1.5"/>
<rect x="195.95" y="296.68" width="5.10" height="38.92" fill="#d6d6d6"/>
<line x1="198.50" x2="198.50" y1="294.83" y2="296.98" stroke="#0a0a0a" stroke-width="1.5"/>
<rect x="201.05" y="287.32" width="5.10" height="48.28" fill="#666666"/>
<line x1="203.60" x2="203.60" y1="285.94" y2="287.62" stroke="#0a0a0a" stroke-width="1.5"/>
<line x1="34.20" x2="34.20" y1="219.50" y2="336.40" stroke="#111" stroke-width="1.3"/>
<line x1="33.60" x2="207.60" y1="335.80" y2="335.80" stroke="#111" stroke-width="1.3"/>
<line x1="30.90" x2="34.20" y1="335.60" y2="335.60" stroke="#111" stroke-width="1.1"/>
<text x="29.20" y="338.40" text-anchor="end" font-size="8.1" font-weight="bold">0</text>
<line x1="30.90" x2="34.20" y1="312.50" y2="312.50" stroke="#111" stroke-width="1.1"/>
<text x="29.20" y="315.30" text-anchor="end" font-size="8.1" font-weight="bold">2</text>
<line x1="30.90" x2="34.20" y1="289.40" y2="289.40" stroke="#111" stroke-width="1.1"/>
<text x="29.20" y="292.20" text-anchor="end" font-size="8.1" font-weight="bold">4</text>
<line x1="30.90" x2="34.20" y1="266.30" y2="266.30" stroke="#111" stroke-width="1.1"/>
<text x="29.20" y="269.10" text-anchor="end" font-size="8.1" font-weight="bold">6</text>
<line x1="30.90" x2="34.20" y1="243.20" y2="243.20" stroke="#111" stroke-width="1.1"/>
<text x="29.20" y="246.00" text-anchor="end" font-size="8.1" font-weight="bold">8</text>
<line x1="30.90" x2="34.20" y1="220.10" y2="220.10" stroke="#111" stroke-width="1.1"/>
<text x="29.20" y="222.90" text-anchor="end" font-size="8.1" font-weight="bold">10</text>
<line x1="48.55" x2="48.55" y1="335.60" y2="339.10" stroke="#111" stroke-width="1.1"/>
<text transform="translate(49.85,345.30) rotate(-45)" text-anchor="end" font-size="8.1" font-weight="bold">6</text>
<line x1="77.40" x2="77.40" y1="335.60" y2="339.10" stroke="#111" stroke-width="1.1"/>
<text transform="translate(78.70,345.30) rotate(-45)" text-anchor="end" font-size="8.1" font-weight="bold">12</text>
<line x1="106.25" x2="106.25" y1="335.60" y2="339.10" stroke="#111" stroke-width="1.1"/>
<text transform="translate(107.55,345.30) rotate(-45)" text-anchor="end" font-size="8.1" font-weight="bold">18</text>
<line x1="135.10" x2="135.10" y1="335.60" y2="339.10" stroke="#111" stroke-width="1.1"/>
<text transform="translate(136.40,345.30) rotate(-45)" text-anchor="end" font-size="8.1" font-weight="bold">24</text>
<line x1="163.95" x2="163.95" y1="335.60" y2="339.10" stroke="#111" stroke-width="1.1"/>
<text transform="translate(165.25,345.30) rotate(-45)" text-anchor="end" font-size="8.1" font-weight="bold">30</text>
<line x1="192.80" x2="192.80" y1="335.60" y2="339.10" stroke="#111" stroke-width="1.1"/>
<text transform="translate(194.10,345.30) rotate(-45)" text-anchor="end" font-size="8.1" font-weight="bold">36</text>
<text x="120.90" y="366.50" text-anchor="middle" font-size="9" font-weight="bold">hpi</text>
<text transform="translate(18.90,277.85) rotate(-90)" text-anchor="middle" font-size="9.4" font-weight="bold" style="stroke-width:0.1px">Relative expression of <tspan font-style="italic">Pm</tspan>STAT</text>
<text x="2.3" y="200.3" font-size="14.3" letter-spacing="0.7" stroke="#111" stroke-width="0.45">C)</text>
<line x1="35.80" x2="61.90" y1="216.70" y2="216.70" stroke="#1a1a1a" stroke-width="1.15"/>
<line x1="36.20" x2="36.20" y1="215.25" y2="218.15" stroke="#1a1a1a" stroke-width="0.9"/>
<line x1="61.50" x2="61.50" y1="215.25" y2="218.15" stroke="#1a1a1a" stroke-width="0.9"/>
<polygon points="49.05,211.55 49.73,213.07 51.38,213.24 50.14,214.36 50.49,215.98 49.05,215.15 47.61,215.98 47.96,214.36 46.72,213.24 48.37,213.07" fill="#111"/>
<line x1="41.65" x2="61.90" y1="223.40" y2="223.40" stroke="#1a1a1a" stroke-width="1.15"/>
<line x1="42.05" x2="42.05" y1="221.95" y2="224.85" stroke="#1a1a1a" stroke-width="0.9"/>
<line x1="61.50" x2="61.50" y1="221.95" y2="224.85" stroke="#1a1a1a" stroke-width="0.9"/>
<polygon points="51.98,218.25 52.65,219.77 54.31,219.94 53.07,221.06 53.42,222.68 51.98,221.85 50.53,222.68 50.88,221.06 49.64,219.94 51.30,219.77" fill="#111"/>
<line x1="46.50" x2="61.90" y1="229.40" y2="229.40" stroke="#1a1a1a" stroke-width="1.15"/>
<line x1="46.90" x2="46.90" y1="227.95" y2="230.85" stroke="#1a1a1a" stroke-width="0.9"/>
<line x1="61.50" x2="61.50" y1="227.95" y2="230.85" stroke="#1a1a1a" stroke-width="0.9"/>
<polygon points="54.40,224.25 55.08,225.77 56.73,225.94 55.49,227.06 55.84,228.68 54.40,227.85 52.96,228.68 53.31,227.06 52.07,225.94 53.72,225.77" fill="#111"/>
<line x1="51.80" x2="61.90" y1="236.50" y2="236.50" stroke="#1a1a1a" stroke-width="1.15"/>
<line x1="52.20" x2="52.20" y1="235.05" y2="237.95" stroke="#1a1a1a" stroke-width="0.9"/>
<line x1="61.50" x2="61.50" y1="235.05" y2="237.95" stroke="#1a1a1a" stroke-width="0.9"/>
<polygon points="57.05,231.35 57.73,232.87 59.38,233.04 58.14,234.16 58.49,235.78 57.05,234.95 55.61,235.78 55.96,234.16 54.72,233.04 56.37,232.87" fill="#111"/>
<line x1="64.65" x2="90.75" y1="309.90" y2="309.90" stroke="#1a1a1a" stroke-width="1.15"/>
<line x1="65.05" x2="65.05" y1="308.45" y2="311.35" stroke="#1a1a1a" stroke-width="0.9"/>
<line x1="90.35" x2="90.35" y1="308.45" y2="311.35" stroke="#1a1a1a" stroke-width="0.9"/>
<polygon points="77.90,304.75 78.58,306.27 80.23,306.44 78.99,307.56 79.34,309.18 77.90,308.35 76.46,309.18 76.81,307.56 75.57,306.44 77.22,306.27" fill="#111"/>
<line x1="70.50" x2="90.75" y1="316.40" y2="316.40" stroke="#1a1a1a" stroke-width="1.15"/>
<line x1="70.90" x2="70.90" y1="314.95" y2="317.85" stroke="#1a1a1a" stroke-width="0.9"/>
<line x1="90.35" x2="90.35" y1="314.95" y2="317.85" stroke="#1a1a1a" stroke-width="0.9"/>
<polygon points="80.83,311.25 81.50,312.77 83.16,312.94 81.92,314.06 82.27,315.68 80.83,314.85 79.38,315.68 79.73,314.06 78.49,312.94 80.15,312.77" fill="#111"/>
<line x1="93.50" x2="119.60" y1="268.30" y2="268.30" stroke="#1a1a1a" stroke-width="1.15"/>
<line x1="93.90" x2="93.90" y1="266.85" y2="269.75" stroke="#1a1a1a" stroke-width="0.9"/>
<line x1="119.20" x2="119.20" y1="266.85" y2="269.75" stroke="#1a1a1a" stroke-width="0.9"/>
<polygon points="106.75,263.15 107.43,264.67 109.08,264.84 107.84,265.96 108.19,267.58 106.75,266.75 105.31,267.58 105.66,265.96 104.42,264.84 106.07,264.67" fill="#111"/>
<line x1="99.35" x2="119.60" y1="274.50" y2="274.50" stroke="#1a1a1a" stroke-width="1.15"/>
<line x1="99.75" x2="99.75" y1="273.05" y2="275.95" stroke="#1a1a1a" stroke-width="0.9"/>
<line x1="119.20" x2="119.20" y1="273.05" y2="275.95" stroke="#1a1a1a" stroke-width="0.9"/>
<polygon points="109.67,269.35 110.35,270.87 112.01,271.04 110.77,272.16 111.12,273.78 109.67,272.95 108.23,273.78 108.58,272.16 107.34,271.04 109.00,270.87" fill="#111"/>
<line x1="104.20" x2="119.60" y1="281.00" y2="281.00" stroke="#1a1a1a" stroke-width="1.15"/>
<line x1="104.60" x2="104.60" y1="279.55" y2="282.45" stroke="#1a1a1a" stroke-width="0.9"/>
<line x1="119.20" x2="119.20" y1="279.55" y2="282.45" stroke="#1a1a1a" stroke-width="0.9"/>
<polygon points="112.10,275.85 112.78,277.37 114.43,277.54 113.19,278.66 113.54,280.28 112.10,279.45 110.66,280.28 111.01,278.66 109.77,277.54 111.42,277.37" fill="#111"/>
<line x1="109.50" x2="119.60" y1="287.40" y2="287.40" stroke="#1a1a1a" stroke-width="1.15"/>
<line x1="109.90" x2="109.90" y1="285.95" y2="288.85" stroke="#1a1a1a" stroke-width="0.9"/>
<line x1="119.20" x2="119.20" y1="285.95" y2="288.85" stroke="#1a1a1a" stroke-width="0.9"/>
<polygon points="114.75,282.25 115.43,283.77 117.08,283.94 115.84,285.06 116.19,286.68 114.75,285.85 113.31,286.68 113.66,285.06 112.42,283.94 114.07,283.77" fill="#111"/>
<line x1="122.35" x2="148.45" y1="268.30" y2="268.30" stroke="#1a1a1a" stroke-width="1.15"/>
<line x1="122.75" x2="122.75" y1="266.85" y2="269.75" stroke="#1a1a1a" stroke-width="0.9"/>
<line x1="148.05" x2="148.05" y1="266.85" y2="269.75" stroke="#1a1a1a" stroke-width="0.9"/>
<polygon points="135.60,263.15 136.28,264.67 137.93,264.84 136.69,265.96 137.04,267.58 135.60,266.75 134.16,267.58 134.51,265.96 133.27,264.84 134.92,264.67" fill="#111"/>
<line x1="128.20" x2="148.45" y1="274.50" y2="274.50" stroke="#1a1a1a" stroke-width="1.15"/>
<line x1="128.60" x2="128.60" y1="273.05" y2="275.95" stroke="#1a1a1a" stroke-width="0.9"/>
<line x1="148.05" x2="148.05" y1="273.05" y2="275.95" stroke="#1a1a1a" stroke-width="0.9"/>
<polygon points="138.53,269.35 139.20,270.87 140.86,271.04 139.62,272.16 139.97,273.78 138.53,272.95 137.08,273.78 137.43,272.16 136.19,271.04 137.85,270.87" fill="#111"/>
<line x1="133.05" x2="148.45" y1="280.80" y2="280.80" stroke="#1a1a1a" stroke-width="1.15"/>
<line x1="133.45" x2="133.45" y1="279.35" y2="282.25" stroke="#1a1a1a" stroke-width="0.9"/>
<line x1="148.05" x2="148.05" y1="279.35" y2="282.25" stroke="#1a1a1a" stroke-width="0.9"/>
<polygon points="140.95,275.65 141.63,277.17 143.28,277.34 142.04,278.46 142.39,280.08 140.95,279.25 139.51,280.08 139.86,278.46 138.62,277.34 140.27,277.17" fill="#111"/>
<line x1="138.35" x2="148.45" y1="287.40" y2="287.40" stroke="#1a1a1a" stroke-width="1.15"/>
<line x1="138.75" x2="138.75" y1="285.95" y2="288.85" stroke="#1a1a1a" stroke-width="0.9"/>
<line x1="148.05" x2="148.05" y1="285.95" y2="288.85" stroke="#1a1a1a" stroke-width="0.9"/>
<polygon points="143.60,282.25 144.28,283.77 145.93,283.94 144.69,285.06 145.04,286.68 143.60,285.85 142.16,286.68 142.51,285.06 141.27,283.94 142.92,283.77" fill="#111"/>
<line x1="151.20" x2="177.30" y1="260.70" y2="260.70" stroke="#1a1a1a" stroke-width="1.15"/>
<line x1="151.60" x2="151.60" y1="259.25" y2="262.15" stroke="#1a1a1a" stroke-width="0.9"/>
<line x1="176.90" x2="176.90" y1="259.25" y2="262.15" stroke="#1a1a1a" stroke-width="0.9"/>
<polygon points="164.45,255.55 165.13,257.07 166.78,257.24 165.54,258.36 165.89,259.98 164.45,259.15 163.01,259.98 163.36,258.36 162.12,257.24 163.77,257.07" fill="#111"/>
<line x1="157.05" x2="177.30" y1="267.20" y2="267.20" stroke="#1a1a1a" stroke-width="1.15"/>
<line x1="157.45" x2="157.45" y1="265.75" y2="268.65" stroke="#1a1a1a" stroke-width="0.9"/>
<line x1="176.90" x2="176.90" y1="265.75" y2="268.65" stroke="#1a1a1a" stroke-width="0.9"/>
<polygon points="167.38,262.05 168.05,263.57 169.71,263.74 168.47,264.86 168.82,266.48 167.38,265.65 165.93,266.48 166.28,264.86 165.04,263.74 166.70,263.57" fill="#111"/>
<line x1="161.90" x2="177.30" y1="273.50" y2="273.50" stroke="#1a1a1a" stroke-width="1.15"/>
<line x1="162.30" x2="162.30" y1="272.05" y2="274.95" stroke="#1a1a1a" stroke-width="0.9"/>
<line x1="176.90" x2="176.90" y1="272.05" y2="274.95" stroke="#1a1a1a" stroke-width="0.9"/>
<polygon points="169.80,268.35 170.48,269.87 172.13,270.04 170.89,271.16 171.24,272.78 169.80,271.95 168.36,272.78 168.71,271.16 167.47,270.04 169.12,269.87" fill="#111"/>
<line x1="167.20" x2="177.30" y1="280.00" y2="280.00" stroke="#1a1a1a" stroke-width="1.15"/>
<line x1="167.60" x2="167.60" y1="278.55" y2="281.45" stroke="#1a1a1a" stroke-width="0.9"/>
<line x1="176.90" x2="176.90" y1="278.55" y2="281.45" stroke="#1a1a1a" stroke-width="0.9"/>
<polygon points="172.45,274.85 173.13,276.37 174.78,276.54 173.54,277.66 173.89,279.28 172.45,278.45 171.01,279.28 171.36,277.66 170.12,276.54 171.77,276.37" fill="#111"/>
<line x1="180.05" x2="206.15" y1="263.50" y2="263.50" stroke="#1a1a1a" stroke-width="1.15"/>
<line x1="180.45" x2="180.45" y1="262.05" y2="264.95" stroke="#1a1a1a" stroke-width="0.9"/>
<line x1="205.75" x2="205.75" y1="262.05" y2="264.95" stroke="#1a1a1a" stroke-width="0.9"/>
<polygon points="193.30,258.35 193.98,259.87 195.63,260.04 194.39,261.16 194.74,262.78 193.30,261.95 191.86,262.78 192.21,261.16 190.97,260.04 192.62,259.87" fill="#111"/>
<line x1="185.90" x2="206.15" y1="269.90" y2="269.90" stroke="#1a1a1a" stroke-width="1.15"/>
<line x1="186.30" x2="186.30" y1="268.45" y2="271.35" stroke="#1a1a1a" stroke-width="0.9"/>
<line x1="205.75" x2="205.75" y1="268.45" y2="271.35" stroke="#1a1a1a" stroke-width="0.9"/>
<polygon points="196.22,264.75 196.90,266.27 198.56,266.44 197.32,267.56 197.67,269.18 196.22,268.35 194.78,269.18 195.13,267.56 193.89,266.44 195.55,266.27" fill="#111"/>
<line x1="190.75" x2="206.15" y1="276.10" y2="276.10" stroke="#1a1a1a" stroke-width="1.15"/>
<line x1="191.15" x2="191.15" y1="274.65" y2="277.55" stroke="#1a1a1a" stroke-width="0.9"/>
<line x1="205.75" x2="205.75" y1="274.65" y2="277.55" stroke="#1a1a1a" stroke-width="0.9"/>
<polygon points="198.65,270.95 199.33,272.47 200.98,272.64 199.74,273.76 200.09,275.38 198.65,274.55 197.21,275.38 197.56,273.76 196.32,272.64 197.97,272.47" fill="#111"/>
<line x1="196.05" x2="206.15" y1="282.90" y2="282.90" stroke="#1a1a1a" stroke-width="1.15"/>
<line x1="196.45" x2="196.45" y1="281.45" y2="284.35" stroke="#1a1a1a" stroke-width="0.9"/>
<line x1="205.75" x2="205.75" y1="281.45" y2="284.35" stroke="#1a1a1a" stroke-width="0.9"/>
<polygon points="201.30,277.75 201.98,279.27 203.63,279.44 202.39,280.56 202.74,282.18 201.30,281.35 199.86,282.18 200.21,280.56 198.97,279.44 200.62,279.27" fill="#111"/>
<rect x="213.70" y="225.70" width="14" height="7.7" fill="#000000"/>
<text transform="translate(233.80,233.05) scale(0.925,1)" font-size="10.3" font-weight="bold" style="stroke-width:0.15px">PBS</text>
<rect x="213.70" y="239.35" width="14" height="7.7" fill="#9c9c9c"/>
<text transform="translate(233.80,246.70) scale(0.925,1)" font-size="10.3" font-weight="bold" style="stroke-width:0.15px">AP2-β dsRNA</text>
<rect x="213.70" y="253.00" width="14" height="7.7" fill="#808080"/>
<text transform="translate(233.80,260.35) scale(0.925,1)" font-size="10.3" font-weight="bold" style="stroke-width:0.15px">YHV</text>
<rect x="213.70" y="266.65" width="14" height="7.7" fill="#d6d6d6"/>
<text transform="translate(233.80,274.00) scale(0.925,1)" font-size="10.3" font-weight="bold" style="stroke-width:0.15px">GFP dsRNA + YHV</text>
<rect x="213.70" y="280.30" width="14" height="7.7" fill="#666666"/>
<text transform="translate(233.80,287.65) scale(0.925,1)" font-size="10.3" font-weight="bold" style="stroke-width:0.15px">AP2-β dsRNA + YHV</text>
</g>
</svg>
</body></html>
